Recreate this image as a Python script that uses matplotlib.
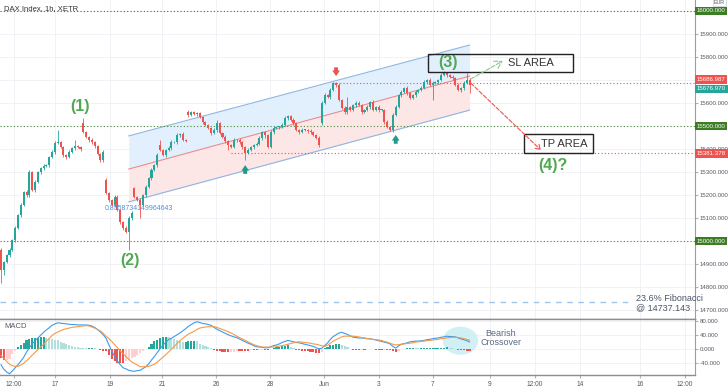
import numpy as np
import matplotlib
matplotlib.use("Agg")
import matplotlib.pyplot as plt
from matplotlib.patches import Rectangle, Ellipse

plt.rcParams["font.family"] = ["Liberation Sans", "DejaVu Sans"]

# hourly DAX closes
closes = [
    14874, 14909, 14939, 14961, 15004, 15057, 15113, 15157, 15213, 15200,
    15300, 15222, 15257, 15300, 15317, 15326, 15330, 15365, 15387, 15426,
    15430, 15409, 15374, 15365, 15387, 15404, 15413, 15409, 15400, 15474,
    15452, 15439, 15430, 15413, 15378, 15352, 15387,
    15209, 15178, 15157, 15191, 15135, 15083, 15057, 15039, 15100, 15122,
    15191, 15178, 15157, 15200, 15235, 15274, 15309, 15330, 15374, 15396,
    15374, 15396, 15404, 15430, 15430, 15461, 15465, 15439, 15435,
    15548, 15561, 15552, 15556, 15539, 15517, 15504, 15491, 15470, 15483,
    15513, 15470, 15452, 15435, 15417, 15409, 15439, 15439, 15430, 15409,
    15383,
    15396, 15409, 15417, 15422, 15448, 15474, 15461, 15409, 15474, 15491,
    15496, 15496, 15504, 15535, 15543, 15526, 15513, 15483, 15474, 15483,
    15483, 15478, 15474, 15461, 15448, 15417,
    15600, 15635, 15626, 15657, 15687, 15678, 15613, 15578, 15561, 15583,
    15570, 15591, 15600, 15591, 15561, 15570, 15583, 15604, 15570, 15583,
    15570, 15570, 15517, 15496, 15483, 15548, 15583, 15635, 15648, 15665,
    15643, 15622, 15635, 15648, 15657, 15665, 15691, 15700, 15678, 15687,
    15691, 15700, 15722, 15730, 15722, 15713, 15709, 15678, 15657, 15665,
    15687, 15700, 15677,
]
# opens that differ from the previous close (session gaps)
gap_opens = {0: 14961, 29: 15513, 37: 15265, 47: 15230, 56: 15417, 66: 15561, 113: 15513}

wick_up = [
    9, 6, 5, 8, 6, 7, 5, 9, 6, 8, 7, 5, 8, 6, 5, 7, 4, 6, 8, 9,
    53, 6, 5, 4, 7, 6, 26, 5, 6, 22, 6, 5, 7, 4, 6, 5, 8, 10, 6, 5,
    7, 9, 6, 5, 8, 7, 9, 6, 5, 7, 6, 8, 5, 7, 6, 9, 22, 6, 5, 7,
    8, 6, 7, 5, 9, 6, 7, 5, 6, 4, 6, 5, 7, 6, 5, 8, 13, 6, 5, 7,
    6, 5, 8, 6, 7, 5, 6, 8, 5, 6, 7, 9, 6, 5, 6, 8, 7, 5, 6, 7,
    9, 6, 5, 7, 6, 5, 8, 6, 5, 7, 6, 5, 7, 9, 8, 6, 7, 4, 6, 8,
    5, 7, 43, 6, 5, 7, 8, 6, 5, 7, 6, 8, 5, 7, 6, 5, 9, 6, 8, 7,
    6, 9, 5, 7, 6, 5, 8, 6, 7, 9, 6, 8, 7, 5, 6, 7, 9, 6, 5, 7,
    6, 8, 5, 7, 30, 9,
]
wick_dn = [
    57, 22, 6, 8, 5, 7, 6, 9, 5, 7, 8, 6, 9, 5, 7, 6, 5, 8, 6, 7,
    6, 5, 8, 7, 6, 5, 7, 6, 9, 6, 5, 7, 6, 8, 6, 9, 7, 6, 8, 5,
    7, 6, 9, 8, 6, 78, 7, 6, 5, 57, 6, 7, 5, 8, 6, 7, 6, 5, 7, 6,
    8, 5, 6, 7, 5, 6, 7, 6, 5, 8, 6, 7, 5, 6, 8, 6, 7, 5, 6, 7,
    22, 6, 5, 7, 6, 8, 31, 6, 5, 7, 6, 5, 7, 12, 6, 5, 8, 6, 7, 5,
    6, 7, 5, 8, 6, 7, 5, 6, 8, 7, 6, 5, 7, 8, 6, 5, 7, 6, 8, 5,
    6, 7, 9, 5, 6, 8, 6, 7, 5, 6, 7, 6, 5, 8, 6, 7, 6, 5, 7, 6,
    5, 7, 6, 8, 6, 5, 7, 6, 6, 6, 7, 5, 65, 6, 7, 5, 6, 8, 6, 7,
    5, 6, 8, 7, 6, 34,
]

macd_line = [
    -44, -57, -65, -70, -62, -53, -44, -34, -23, -8,
    4, 15, 24, 32, 40, 48, 55, 61, 68, 72,
    75, 74, 73, 72, 71, 70, 70, 69, 69, 69,
    69, 68, 66, 62, 56, 49, 41, 31, 12, -5,
    -20, -34, -44, -53, -56, -60, -62, -63, -61, -60,
    -55, -50, -42, -31, -21, -10, 1, 11, 20, 27,
    31, 36, 41, 46, 52, 58, 65, 70, 75, 78,
    76, 73, 72, 70, 68, 62, 57, 53, 49, 45,
    41, 38, 35, 33, 29, 25, 21, 17, 14, 10,
    7, 6, 5, 4, 4, 7, 10, 12, 15, 19,
    22, 25, 23, 21, 19, 18, 16, 14, 12, 10,
    8, 4, 1, 3, 10, 18, 28, 36, 41, 46,
    48, 45, 42, 38, 34, 33, 32, 32, 31, 30,
    29, 28, 26, 24, 22, 20, 18, 15, 8, 3,
    9, 14, 16, 18, 21, 22, 23, 23, 24, 25,
    27, 28, 30, 31, 32, 34, 35, 37, 36, 36,
    35, 32, 29, 27, 24, 21,
]
signal_line = [
    -18, -26, -35, -43, -47, -49, -49, -45, -40, -33,
    -25, -17, -9, -1, 6, 14, 23, 31, 39, 45,
    49, 53, 56, 58, 60, 62, 63, 64, 65, 66,
    67, 66, 63, 60, 56, 52, 45, 37, 30, 22,
    13, 4, -5, -13, -21, -29, -36, -41, -45, -50,
    -50, -50, -49, -46, -43, -37, -30, -23, -16, -8,
    0, 8, 16, 24, 31, 37, 43, 47, 51, 56,
    60, 62, 63, 64, 64, 64, 62, 59, 56, 53,
    50, 46, 42, 37, 33, 29, 25, 21, 17, 13,
    10, 8, 6, 6, 6, 6, 6, 7, 9, 10,
    12, 14, 16, 18, 20, 21, 20, 19, 18, 17,
    15, 14, 12, 10, 8, 11, 17, 23, 27, 31,
    35, 37, 37, 37, 37, 36, 35, 33, 32, 30,
    29, 28, 27, 26, 25, 22, 20, 17, 14, 12,
    13, 14, 15, 16, 17, 18, 20, 21, 22, 23,
    24, 25, 26, 27, 28, 30, 31, 32, 33, 34,
    34, 33, 32, 30, 28, 26,
]

date_labels = ["12:00", "17", "19", "21", "26", "28", "Jun", "3", "7", "9", "12:00", "14", "16", "12:00"]
date_ticks = [4.6, 19.0, 38.4, 56.7, 75.7, 94.7, 113.7, 133.1, 152.1, 172.2, 188.0, 203.9, 225.0, 240.8]

# regression channel (start bar, end bar) and its three lines
chan_bars = [45, 165]
chan_upper = [15457, 15852]
chan_mid = [15313, 15717]
chan_lower = [15170, 15569]

support_levels = [16000, 15500, 15000]
last_peak = 15686.987
last_price = 15676.970
target = 15381.378
fib_236 = 14737.143

UP = "#26a69a"
DOWN = "#ef5350"
WAVE = "#52a852"
GRID = "#eef0f4"
TXT = "#555a62"
AXFS = 4.4

c = np.array(closes, dtype=float)
n = len(c)
o = np.array([gap_opens.get(i, closes[i - 1] if i else closes[i]) for i in range(n)], dtype=float)
hi = np.maximum(o, c) + np.array(wick_up)
lo = np.minimum(o, c) - np.array(wick_dn)
xb = np.arange(n)
col = np.where(c >= o, UP, DOWN)

fig = plt.figure(figsize=(7.28, 3.91), dpi=100)
ax = fig.add_axes([0, 0.184, 0.9547, 0.816])
axm = fig.add_axes([0, 0.041, 0.9547, 0.143], sharex=ax)

XMAX = 244.4
ax.set_xlim(-0.35, XMAX)
ax.set_ylim(14660.9, 16047.8)
axm.set_ylim(-73.4, 85.7)

# channel
ax.fill_between(chan_bars, chan_mid, chan_upper, color="#e2effc", lw=0, zorder=0.6)
ax.fill_between(chan_bars, chan_lower, chan_mid, color="#fde6e6", lw=0, zorder=0.6)
ax.plot(chan_bars, chan_upper, color="#8db6e3", lw=0.8, zorder=0.7)
ax.plot(chan_bars, chan_lower, color="#8db6e3", lw=0.8, zorder=0.7)
ax.plot(chan_bars, chan_mid, color="#ee8a8a", lw=0.8, zorder=0.7)

# horizontal levels
ax.axhline(support_levels[0], color="#4a6b3a", lw=0.8, ls=(0, (1, 2)), zorder=1)
for lv in support_levels[1:]:
    ax.axhline(lv, color="#4e8a3a", lw=0.8, ls=(0, (1, 2)), zorder=1)
ax.hlines(last_peak, 117, XMAX, color=DOWN, lw=0.8, ls=(0, (1, 2)), zorder=1)
ax.hlines(target, 81, XMAX, color=DOWN, lw=0.8, ls=(0, (1, 2)), zorder=1)
ax.hlines(fib_236, -0.35, 221, color="#9ec5ea", lw=1, ls=(0, (4, 4)), zorder=1)
ax.text(223.5, fib_236 - 7, "23.6% Fibonacci\n@ 14737.143", fontsize=6.5, color="#4a5568",
        ha="left", va="center", linespacing=0.95)

# candles
ax.vlines(xb, lo, hi, colors=col, lw=0.6, zorder=2)
ax.bar(xb, np.maximum(np.abs(c - o), 2), bottom=np.minimum(o, c), width=0.72,
       color=col, lw=0, zorder=2.1)

# wave labels and boxes
wave_font = dict(fontsize=11.5, color=WAVE, ha="center", va="center", fontweight="bold")
ax.text(27.9, 15583, "(1)", **wave_font)
ax.text(45.5, 14917, "(2)", **wave_font)
ax.text(157.3, 15778, "(3)", **wave_font)
ax.text(194.3, 15330, "(4)?", **wave_font)
ax.text(36.6, 15143, "0.8558734149964643", fontsize=5, color="#4f8fdc", ha="left", va="center")

ax.add_patch(Rectangle((150.2, 15735), 51.1, 78, fill=False, ec="#222222", lw=1, zorder=3))
ax.text(186.5, 15774, "SL AREA", fontsize=8, color="#333333", ha="center", va="center")
ax.add_patch(Rectangle((184.1, 15381), 24.3, 83, fill=False, ec="#222222", lw=1, zorder=3))
ax.text(198.2, 15424, "TP AREA", fontsize=8, color="#333333", ha="center", va="center")

ax.annotate("", xy=(176.7, 15783), xytext=(165.4, 15704),
            arrowprops=dict(arrowstyle="->,head_width=0.3,head_length=0.5", color="#8cc78a",
                            lw=0.8, ls="--", shrinkA=0, shrinkB=0))
ax.annotate("", xy=(190.1, 15396), xytext=(165.4, 15687),
            arrowprops=dict(arrowstyle="->,head_width=0.2,head_length=0.3", color=DOWN,
                            lw=0.8, ls="--", shrinkA=0, shrinkB=0))

# signal arrows
simple = "simple,head_width=0.55,head_length=0.4,tail_width=0.28"
ax.annotate("", xy=(118, 15717), xytext=(118, 15755),
            arrowprops=dict(arrowstyle=simple, fc=DOWN, ec="none", shrinkA=0, shrinkB=0))
ax.annotate("", xy=(86, 15330), xytext=(86, 15292),
            arrowprops=dict(arrowstyle=simple, fc="#1f9a8a", ec="none", shrinkA=0, shrinkB=0))
ax.annotate("", xy=(139, 15461), xytext=(139, 15423),
            arrowprops=dict(arrowstyle=simple, fc="#1f9a8a", ec="none", shrinkA=0, shrinkB=0))

ax.text(0.006, 0.984, "DAX Index, 1h, XETR", transform=ax.transAxes, fontsize=5.5,
        color="#333333", ha="left", va="top")

# price axis
yt = list(range(14700, 16001, 100))
ax.yaxis.tick_right()
ax.set_yticks(yt)
ax.set_yticklabels(["" if v in (15000, 15500, 15700, 16000) else f"{v}.000" for v in yt])
ax.tick_params(axis="y", labelsize=AXFS, colors=TXT, length=2, pad=1.5, color="#b0b3b8")
ax.tick_params(axis="x", labelbottom=False, length=0)
ax.set_xticks(date_ticks)
ax.grid(True, color=GRID, lw=0.6)
ax.set_axisbelow(True)
for sp in ("top", "left"):
    ax.spines[sp].set_visible(False)
ax.spines["right"].set_color("#9a9da3")
ax.spines["right"].set_linewidth(0.8)
ax.spines["bottom"].set_color("#8a8d93")
ax.spines["bottom"].set_linewidth(1.0)


def price_tag(axis, val, text, color, dy=0):
    axis.annotate(text, xy=(1, val), xycoords=("axes fraction", "data"), xytext=(1.2, dy),
                  textcoords="offset points", fontsize=AXFS, color="white", ha="left", va="center",
                  annotation_clip=False, zorder=5,
                  bbox=dict(boxstyle="square,pad=0.3", fc=color, ec="none"))


price_tag(ax, 16000, "16000.000", "#3b7d23")
price_tag(ax, last_peak, "15686.987", DOWN, dy=2.6)
price_tag(ax, last_price, "15676.970", UP, dy=-2.6)
price_tag(ax, 15500, "15500.000", "#3b7d23")
price_tag(ax, target, "15381.378", DOWN)
price_tag(ax, 15000, "15000.000", "#3b7d23")
ax.text(1.035, 0.999, "EUR", transform=ax.transAxes, fontsize=3.8, color=TXT, ha="center", va="top",
        bbox=dict(boxstyle="square,pad=0.2", fc="white", ec="#c8cbd0", lw=0.5), zorder=6)

# MACD panel
m = np.array(macd_line, dtype=float)
s = np.array(signal_line, dtype=float)
h = m - s
prev = np.concatenate([[h[0]], h[:-1]])
hcol = np.where(h >= 0, np.where(h >= prev, "#26a69a", "#b2dfdb"),
                np.where(h <= prev, "#ef5350", "#ffcdd2"))
axm.add_patch(Ellipse((161.8, 24), 12.5, 80, fc="#c6edf4", ec="none", alpha=0.8, zorder=0.8))
axm.bar(xb, h, width=0.75, color=hcol, lw=0, zorder=1)
axm.plot(xb, m, color="#3d9be9", lw=0.8, zorder=2)
axm.plot(xb, s, color="#f59a4a", lw=0.8, zorder=2)
axm.text(176, 33, "Bearish\nCrossover", fontsize=6.5, color="#5b6a85", ha="center", va="center",
         linespacing=1.0)
axm.text(0.006, 0.86, "MACD", transform=axm.transAxes, fontsize=5.5, color=TXT, ha="left", va="center")

axm.yaxis.tick_right()
axm.set_yticks([-40, 0, 40, 80])
axm.set_yticklabels(["-40.000", "0.000", "40.000", "80.000"])
axm.tick_params(axis="y", labelsize=AXFS, colors=TXT, length=2, pad=1.5, color="#b0b3b8")
axm.set_xticks(date_ticks)
axm.set_xticklabels(date_labels)
axm.tick_params(axis="x", labelsize=4.8, colors=TXT, length=2, pad=2, color="#b0b3b8")
axm.grid(True, color=GRID, lw=0.6)
axm.set_axisbelow(True)
axm.spines["left"].set_visible(False)
for sp in ("top", "bottom"):
    axm.spines[sp].set_color("#8a8d93")
    axm.spines[sp].set_linewidth(1.0)
axm.spines["right"].set_color("#9a9da3")
axm.spines["right"].set_linewidth(0.8)

fig.savefig("out.png", dpi=100)
